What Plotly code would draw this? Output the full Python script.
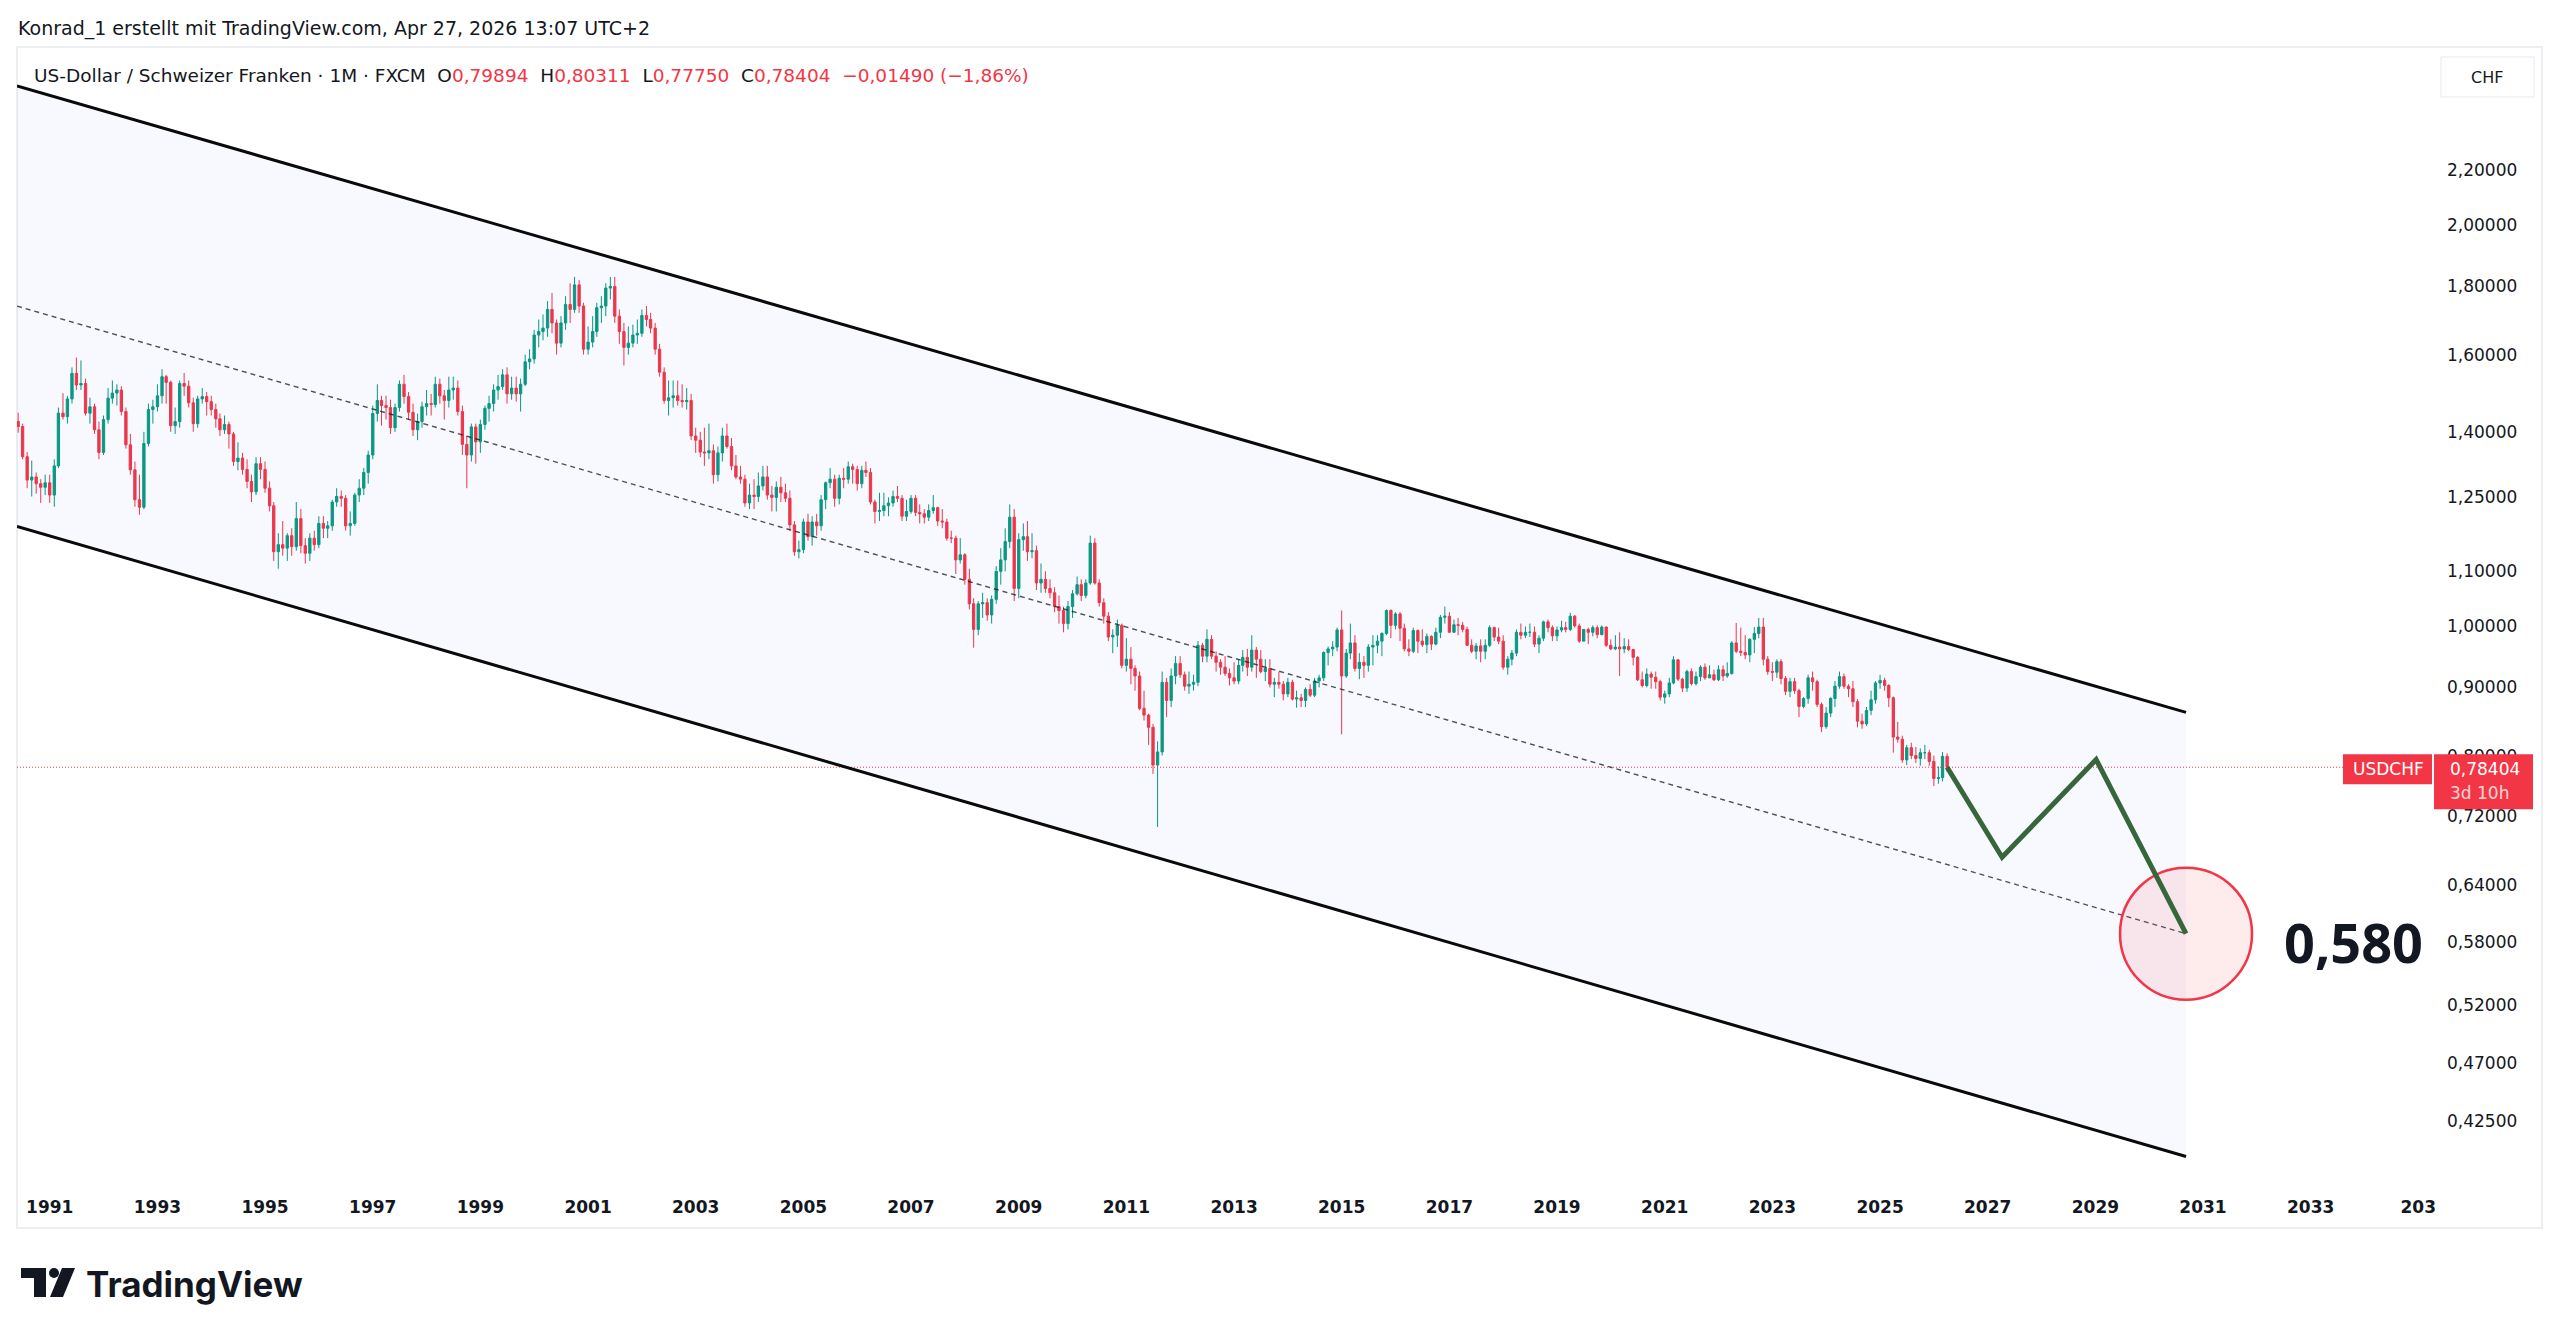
import math
import pandas as pd
import plotly.graph_objects as go

# ---------------- data (monthly USD/CHF candles) ----------------
FIRST_MONTH = "1990-06-01"

OPEN = [
    1.425, 1.413, 1.341, 1.288, 1.295, 1.280, 1.272,
    1.282, 1.255, 1.320, 1.446, 1.437, 1.482, 1.549, 1.518, 1.522, 1.446, 1.462, 1.405,
    1.351, 1.430, 1.484, 1.497, 1.505, 1.450, 1.369, 1.311, 1.245, 1.229, 1.372, 1.455,
    1.462, 1.490, 1.540, 1.525, 1.415, 1.425, 1.522, 1.515, 1.472, 1.420, 1.482, 1.488,
    1.475, 1.455, 1.432, 1.405, 1.418, 1.395, 1.330, 1.338, 1.312, 1.285, 1.262, 1.325,
    1.312, 1.270, 1.232, 1.138, 1.152, 1.145, 1.170, 1.148, 1.205, 1.150, 1.135, 1.165,
    1.152, 1.195, 1.185, 1.190, 1.240, 1.252, 1.248, 1.190, 1.195, 1.255, 1.270, 1.305,
    1.345, 1.445, 1.478, 1.465, 1.460, 1.410, 1.460, 1.520, 1.488, 1.448, 1.405, 1.425,
    1.462, 1.470, 1.468, 1.520, 1.490, 1.478, 1.505, 1.510, 1.450, 1.370, 1.345, 1.412,
    1.376, 1.418, 1.458, 1.470, 1.505, 1.514, 1.545, 1.495, 1.510, 1.495, 1.520, 1.580,
    1.588, 1.655, 1.665, 1.675, 1.730, 1.690, 1.632, 1.690, 1.745, 1.730, 1.805, 1.740,
    1.615, 1.635, 1.665, 1.735, 1.740, 1.795, 1.800, 1.710, 1.665, 1.620, 1.632, 1.655,
    1.660, 1.712, 1.700, 1.675, 1.615, 1.552, 1.478, 1.485, 1.490, 1.478, 1.475, 1.478,
    1.390, 1.380, 1.352, 1.350, 1.355, 1.300, 1.350, 1.390, 1.365, 1.320, 1.295, 1.290,
    1.238, 1.255, 1.252, 1.275, 1.295, 1.255, 1.250, 1.272, 1.260, 1.248, 1.192, 1.138,
    1.142, 1.198, 1.168, 1.198, 1.190, 1.245, 1.282, 1.290, 1.248, 1.292, 1.290, 1.318,
    1.312, 1.280, 1.310, 1.305, 1.240, 1.220, 1.222, 1.232, 1.238, 1.252, 1.248, 1.210,
    1.220, 1.248, 1.218, 1.215, 1.208, 1.222, 1.228, 1.200, 1.198, 1.165, 1.165, 1.122,
    1.132, 1.085, 1.040, 0.995, 1.040, 1.042, 1.020, 1.048, 1.100, 1.122, 1.158, 1.208,
    1.068, 1.162, 1.168, 1.138, 1.140, 1.078, 1.085, 1.068, 1.060, 1.035, 1.028, 1.005,
    1.035, 1.058, 1.075, 1.055, 1.078, 1.155, 1.078, 1.042, 1.018, 0.982, 0.985, 1.002,
    0.935, 0.945, 0.930, 0.918, 0.868, 0.858, 0.840, 0.787, 0.805, 0.908, 0.880, 0.918,
    0.938, 0.920, 0.902, 0.905, 0.908, 0.968, 0.950, 0.978, 0.950, 0.940, 0.932, 0.922,
    0.915, 0.910, 0.935, 0.948, 0.932, 0.960, 0.945, 0.925, 0.930, 0.905, 0.908, 0.905,
    0.890, 0.908, 0.882, 0.884, 0.880, 0.897, 0.888, 0.910, 0.915, 0.956, 0.962, 0.965,
    0.994, 0.918, 0.955, 0.972, 0.930, 0.940, 0.935, 0.965, 0.968, 0.975, 0.988, 1.028,
    1.002, 1.022, 0.997, 0.962, 0.958, 0.993, 0.975, 0.969, 0.983, 0.970, 0.990, 1.016,
    1.018, 0.990, 1.003, 1.002, 0.995, 0.968, 0.958, 0.967, 0.958, 0.968, 0.998, 0.982,
    0.975, 0.932, 0.945, 0.955, 0.990, 0.985, 0.990, 0.990, 0.970, 0.980, 1.008, 0.998,
    0.984, 0.994, 0.998, 0.995, 1.018, 1.001, 0.975, 0.995, 0.990, 0.998, 0.986, 0.999,
    0.968, 0.962, 0.965, 0.962, 0.966, 0.961, 0.948, 0.912, 0.903, 0.921, 0.916, 0.909,
    0.885, 0.890, 0.907, 0.944, 0.913, 0.899, 0.925, 0.906, 0.917, 0.932, 0.915, 0.920,
    0.912, 0.928, 0.918, 0.922, 0.972, 0.958, 0.956, 0.952, 0.978, 0.988, 0.999, 0.945,
    0.925, 0.924, 0.941, 0.914, 0.894, 0.909, 0.895, 0.871, 0.883, 0.915, 0.909, 0.874,
    0.841, 0.861, 0.883, 0.902, 0.917, 0.902, 0.898, 0.878, 0.849, 0.845, 0.865, 0.881,
    0.907, 0.911, 0.903, 0.884, 0.826, 0.823, 0.794, 0.811, 0.800, 0.796, 0.804, 0.804,
    0.792, 0.769, 0.770, 0.79894,
]

HIGH = [
    1.447, 1.420, 1.352, 1.332, 1.305, 1.290, 1.300,
    1.300, 1.335, 1.460, 1.497, 1.490, 1.565, 1.592, 1.584, 1.535, 1.485, 1.470, 1.425,
    1.440, 1.510, 1.530, 1.520, 1.515, 1.460, 1.395, 1.330, 1.300, 1.400, 1.470, 1.480,
    1.520, 1.560, 1.545, 1.530, 1.460, 1.530, 1.550, 1.530, 1.485, 1.490, 1.510, 1.500,
    1.490, 1.470, 1.445, 1.440, 1.425, 1.400, 1.375, 1.350, 1.335, 1.300, 1.340, 1.340,
    1.330, 1.285, 1.240, 1.175, 1.200, 1.175, 1.185, 1.240, 1.225, 1.165, 1.175, 1.180,
    1.210, 1.210, 1.200, 1.245, 1.270, 1.265, 1.255, 1.220, 1.260, 1.290, 1.315, 1.355,
    1.465, 1.520, 1.490, 1.490, 1.480, 1.470, 1.530, 1.545, 1.500, 1.470, 1.445, 1.475,
    1.505, 1.495, 1.540, 1.535, 1.505, 1.540, 1.540, 1.530, 1.465, 1.390, 1.420, 1.420,
    1.430, 1.465, 1.490, 1.520, 1.545, 1.560, 1.565, 1.540, 1.540, 1.535, 1.600, 1.615,
    1.670, 1.700, 1.715, 1.755, 1.780, 1.700, 1.710, 1.770, 1.810, 1.830, 1.820, 1.750,
    1.680, 1.710, 1.750, 1.770, 1.810, 1.830, 1.830, 1.730, 1.690, 1.680, 1.685, 1.700,
    1.730, 1.740, 1.720, 1.690, 1.630, 1.565, 1.530, 1.530, 1.530, 1.520, 1.510, 1.495,
    1.410, 1.400, 1.410, 1.420, 1.370, 1.365, 1.410, 1.420, 1.385, 1.345, 1.320, 1.300,
    1.280, 1.290, 1.305, 1.320, 1.320, 1.275, 1.285, 1.295, 1.280, 1.265, 1.200, 1.160,
    1.205, 1.215, 1.210, 1.215, 1.255, 1.285, 1.315, 1.300, 1.300, 1.315, 1.330, 1.325,
    1.320, 1.320, 1.330, 1.315, 1.245, 1.260, 1.260, 1.250, 1.265, 1.275, 1.255, 1.245,
    1.255, 1.255, 1.235, 1.225, 1.235, 1.255, 1.230, 1.225, 1.205, 1.180, 1.170, 1.165,
    1.135, 1.105, 1.050, 1.045, 1.060, 1.050, 1.055, 1.110, 1.145, 1.185, 1.235, 1.225,
    1.175, 1.195, 1.200, 1.175, 1.150, 1.115, 1.100, 1.085, 1.070, 1.055, 1.035, 1.045,
    1.065, 1.090, 1.085, 1.085, 1.170, 1.165, 1.085, 1.050, 1.025, 0.995, 1.012, 1.005,
    0.980, 0.965, 0.935, 0.925, 0.895, 0.860, 0.845, 0.820, 0.925, 0.915, 0.930, 0.950,
    0.950, 0.925, 0.925, 0.920, 0.975, 0.972, 0.995, 0.985, 0.958, 0.945, 0.950, 0.930,
    0.940, 0.945, 0.960, 0.962, 0.985, 0.965, 0.960, 0.945, 0.945, 0.915, 0.925, 0.910,
    0.915, 0.912, 0.895, 0.890, 0.900, 0.905, 0.915, 0.920, 0.958, 0.966, 0.975, 0.998,
    1.028, 0.962, 1.005, 0.985, 0.955, 0.950, 0.970, 0.985, 0.985, 0.990, 1.030, 1.030,
    1.025, 1.025, 1.005, 0.978, 0.998, 0.995, 0.995, 0.988, 0.985, 0.998, 1.020, 1.035,
    1.025, 1.012, 1.015, 1.008, 1.000, 0.978, 0.972, 0.978, 0.978, 1.002, 1.000, 0.998,
    0.985, 0.950, 0.960, 0.995, 1.005, 1.000, 1.005, 1.000, 0.985, 1.010, 1.012, 1.002,
    1.000, 1.010, 1.008, 1.024, 1.020, 1.005, 0.995, 0.998, 1.002, 1.002, 1.002, 1.000,
    0.978, 0.985, 0.990, 0.980, 0.978, 0.962, 0.950, 0.925, 0.930, 0.925, 0.925, 0.912,
    0.895, 0.915, 0.950, 0.945, 0.915, 0.928, 0.930, 0.925, 0.935, 0.938, 0.935, 0.928,
    0.935, 0.935, 0.940, 0.975, 1.006, 0.998, 0.985, 0.980, 0.999, 1.015, 1.015, 0.950,
    0.940, 0.945, 0.945, 0.918, 0.915, 0.915, 0.898, 0.885, 0.920, 0.925, 0.912, 0.877,
    0.870, 0.885, 0.910, 0.925, 0.922, 0.905, 0.910, 0.882, 0.860, 0.870, 0.895, 0.910,
    0.920, 0.915, 0.905, 0.886, 0.848, 0.828, 0.815, 0.818, 0.812, 0.810, 0.815, 0.808,
    0.800, 0.785, 0.805, 0.80311,
]

LOW = [
    1.398, 1.335, 1.270, 1.252, 1.258, 1.238, 1.255,
    1.238, 1.230, 1.315, 1.430, 1.420, 1.470, 1.505, 1.505, 1.440, 1.420, 1.395, 1.335,
    1.345, 1.420, 1.470, 1.465, 1.440, 1.360, 1.300, 1.230, 1.213, 1.225, 1.365, 1.420,
    1.450, 1.470, 1.470, 1.400, 1.395, 1.410, 1.490, 1.460, 1.400, 1.410, 1.470, 1.440,
    1.440, 1.410, 1.390, 1.395, 1.360, 1.320, 1.310, 1.300, 1.270, 1.240, 1.255, 1.290,
    1.260, 1.220, 1.120, 1.105, 1.130, 1.120, 1.130, 1.140, 1.135, 1.115, 1.120, 1.140,
    1.145, 1.165, 1.165, 1.180, 1.230, 1.230, 1.180, 1.170, 1.190, 1.240, 1.255, 1.280,
    1.335, 1.425, 1.415, 1.430, 1.395, 1.400, 1.450, 1.470, 1.430, 1.390, 1.380, 1.410,
    1.440, 1.440, 1.460, 1.470, 1.430, 1.460, 1.480, 1.440, 1.345, 1.270, 1.330, 1.325,
    1.350, 1.405, 1.425, 1.450, 1.480, 1.505, 1.470, 1.480, 1.475, 1.450, 1.515, 1.560,
    1.575, 1.620, 1.640, 1.650, 1.660, 1.600, 1.620, 1.670, 1.690, 1.720, 1.720, 1.600,
    1.600, 1.620, 1.650, 1.690, 1.710, 1.760, 1.690, 1.630, 1.570, 1.600, 1.620, 1.630,
    1.650, 1.680, 1.660, 1.600, 1.540, 1.470, 1.440, 1.460, 1.465, 1.460, 1.455, 1.380,
    1.350, 1.340, 1.320, 1.335, 1.280, 1.285, 1.330, 1.360, 1.310, 1.290, 1.280, 1.230,
    1.225, 1.225, 1.240, 1.265, 1.245, 1.220, 1.220, 1.240, 1.240, 1.180, 1.130, 1.125,
    1.135, 1.160, 1.150, 1.170, 1.180, 1.225, 1.270, 1.230, 1.235, 1.270, 1.280, 1.280,
    1.265, 1.270, 1.295, 1.235, 1.195, 1.200, 1.210, 1.210, 1.230, 1.240, 1.200, 1.200,
    1.215, 1.210, 1.195, 1.195, 1.200, 1.215, 1.190, 1.185, 1.160, 1.155, 1.095, 1.115,
    1.075, 1.030, 0.964, 0.985, 1.015, 1.010, 1.005, 1.040, 1.075, 1.100, 1.145, 1.045,
    1.050, 1.140, 1.120, 1.125, 1.065, 1.060, 1.060, 1.050, 1.025, 1.005, 0.990, 0.995,
    1.015, 1.055, 1.045, 1.050, 1.075, 1.075, 1.035, 1.005, 0.975, 0.955, 0.965, 0.930,
    0.925, 0.905, 0.895, 0.865, 0.850, 0.815, 0.775, 0.707, 0.800, 0.855, 0.870, 0.905,
    0.915, 0.895, 0.890, 0.895, 0.902, 0.940, 0.940, 0.945, 0.925, 0.920, 0.918, 0.903,
    0.905, 0.905, 0.925, 0.918, 0.925, 0.915, 0.922, 0.910, 0.900, 0.885, 0.898, 0.880,
    0.885, 0.880, 0.869, 0.870, 0.870, 0.885, 0.885, 0.900, 0.910, 0.935, 0.950, 0.958,
    0.830, 0.915, 0.945, 0.925, 0.913, 0.915, 0.925, 0.935, 0.955, 0.950, 0.985, 0.980,
    0.995, 0.975, 0.958, 0.950, 0.955, 0.955, 0.965, 0.955, 0.960, 0.968, 0.980, 1.005,
    0.990, 0.990, 0.985, 0.990, 0.967, 0.955, 0.945, 0.940, 0.945, 0.965, 0.975, 0.970,
    0.928, 0.920, 0.935, 0.950, 0.978, 0.980, 0.982, 0.965, 0.955, 0.975, 0.990, 0.975,
    0.975, 0.990, 0.990, 0.992, 0.998, 0.972, 0.975, 0.970, 0.983, 0.980, 0.985, 0.965,
    0.960, 0.960, 0.918, 0.955, 0.958, 0.935, 0.910, 0.900, 0.900, 0.898, 0.898, 0.880,
    0.875, 0.885, 0.905, 0.910, 0.893, 0.893, 0.903, 0.903, 0.910, 0.912, 0.915, 0.910,
    0.910, 0.910, 0.915, 0.920, 0.955, 0.950, 0.945, 0.940, 0.955, 0.980, 0.935, 0.920,
    0.910, 0.915, 0.905, 0.888, 0.885, 0.890, 0.855, 0.868, 0.875, 0.895, 0.870, 0.833,
    0.838, 0.855, 0.870, 0.898, 0.898, 0.885, 0.870, 0.840, 0.838, 0.842, 0.858, 0.875,
    0.898, 0.895, 0.870, 0.804, 0.818, 0.790, 0.787, 0.795, 0.790, 0.786, 0.795, 0.786,
    0.759, 0.762, 0.765, 0.7775,
]

CLOSE = [
    1.413, 1.341, 1.288, 1.295, 1.280, 1.272, 1.282,
    1.255, 1.320, 1.446, 1.437, 1.482, 1.549, 1.518, 1.522, 1.446, 1.462, 1.405, 1.351,
    1.430, 1.484, 1.497, 1.505, 1.450, 1.369, 1.311, 1.245, 1.229, 1.372, 1.455, 1.462,
    1.490, 1.540, 1.525, 1.415, 1.425, 1.522, 1.515, 1.472, 1.420, 1.482, 1.488, 1.475,
    1.455, 1.432, 1.405, 1.418, 1.395, 1.330, 1.338, 1.312, 1.285, 1.262, 1.325, 1.312,
    1.270, 1.232, 1.138, 1.152, 1.145, 1.170, 1.148, 1.205, 1.150, 1.135, 1.165, 1.152,
    1.195, 1.185, 1.190, 1.240, 1.252, 1.248, 1.190, 1.195, 1.255, 1.270, 1.305, 1.345,
    1.445, 1.478, 1.465, 1.460, 1.410, 1.460, 1.520, 1.488, 1.448, 1.405, 1.425, 1.462,
    1.470, 1.468, 1.520, 1.490, 1.478, 1.505, 1.510, 1.450, 1.370, 1.345, 1.412, 1.376,
    1.418, 1.458, 1.470, 1.505, 1.514, 1.545, 1.495, 1.510, 1.495, 1.520, 1.580, 1.588,
    1.655, 1.665, 1.675, 1.730, 1.690, 1.632, 1.690, 1.745, 1.730, 1.805, 1.740, 1.615,
    1.635, 1.665, 1.735, 1.740, 1.795, 1.800, 1.710, 1.665, 1.620, 1.632, 1.655, 1.660,
    1.712, 1.700, 1.675, 1.615, 1.552, 1.478, 1.485, 1.490, 1.478, 1.475, 1.478, 1.390,
    1.380, 1.352, 1.350, 1.355, 1.300, 1.350, 1.390, 1.365, 1.320, 1.295, 1.290, 1.238,
    1.255, 1.252, 1.275, 1.295, 1.255, 1.250, 1.272, 1.260, 1.248, 1.192, 1.138, 1.142,
    1.198, 1.168, 1.198, 1.190, 1.245, 1.282, 1.290, 1.248, 1.292, 1.290, 1.318, 1.312,
    1.280, 1.310, 1.305, 1.240, 1.220, 1.222, 1.232, 1.238, 1.252, 1.248, 1.210, 1.220,
    1.248, 1.218, 1.215, 1.208, 1.222, 1.228, 1.200, 1.198, 1.165, 1.165, 1.122, 1.132,
    1.085, 1.040, 0.995, 1.040, 1.042, 1.020, 1.048, 1.100, 1.122, 1.158, 1.208, 1.068,
    1.162, 1.168, 1.138, 1.140, 1.078, 1.085, 1.068, 1.060, 1.035, 1.028, 1.005, 1.035,
    1.058, 1.075, 1.055, 1.078, 1.155, 1.078, 1.042, 1.018, 0.982, 0.985, 1.002, 0.935,
    0.945, 0.930, 0.918, 0.868, 0.858, 0.840, 0.787, 0.805, 0.908, 0.880, 0.918, 0.938,
    0.920, 0.902, 0.905, 0.908, 0.968, 0.950, 0.978, 0.950, 0.940, 0.932, 0.922, 0.915,
    0.910, 0.935, 0.948, 0.932, 0.960, 0.945, 0.925, 0.930, 0.905, 0.908, 0.905, 0.890,
    0.908, 0.882, 0.884, 0.880, 0.897, 0.888, 0.910, 0.915, 0.956, 0.962, 0.965, 0.994,
    0.918, 0.955, 0.972, 0.930, 0.940, 0.935, 0.965, 0.968, 0.975, 0.988, 1.028, 1.002,
    1.022, 0.997, 0.962, 0.958, 0.993, 0.975, 0.969, 0.983, 0.970, 0.990, 1.016, 1.018,
    0.990, 1.003, 1.002, 0.995, 0.968, 0.958, 0.967, 0.958, 0.968, 0.998, 0.982, 0.975,
    0.932, 0.945, 0.955, 0.990, 0.985, 0.990, 0.990, 0.970, 0.980, 1.008, 0.998, 0.984,
    0.994, 0.998, 0.995, 1.018, 1.001, 0.975, 0.995, 0.990, 0.998, 0.986, 0.999, 0.968,
    0.962, 0.965, 0.962, 0.966, 0.961, 0.948, 0.912, 0.903, 0.921, 0.916, 0.909, 0.885,
    0.890, 0.907, 0.944, 0.913, 0.899, 0.925, 0.906, 0.917, 0.932, 0.915, 0.920, 0.912,
    0.928, 0.918, 0.922, 0.972, 0.958, 0.956, 0.952, 0.978, 0.988, 0.999, 0.945, 0.925,
    0.924, 0.941, 0.914, 0.894, 0.909, 0.895, 0.871, 0.883, 0.915, 0.909, 0.874, 0.841,
    0.861, 0.883, 0.902, 0.917, 0.902, 0.898, 0.878, 0.849, 0.845, 0.865, 0.881, 0.907,
    0.911, 0.903, 0.884, 0.826, 0.823, 0.794, 0.811, 0.800, 0.796, 0.804, 0.804, 0.792,
    0.769, 0.770, 0.799, 0.78404,
]

LEGEND_OHLC = ["0,79894", "0,80311", "0,77750", "0,78404"]
LEGEND_CHANGE = "\u22120,01490 (\u22121,86%)"
COUNTDOWN = "3d 10h"

YEAR_TICKS = [1991, 1993, 1995, 1997, 1999, 2001, 2003, 2005, 2007, 2009, 2011,
              2013, 2015, 2017, 2019, 2021, 2023, 2025, 2027, 2029, 2031, 2033, 2035]
YEAR_LABELS = ["1991", "1993", "1995", "1997", "1999", "2001", "2003", "2005", "2007",
               "2009", "2011", "2013", "2015", "2017", "2019", "2021", "2023", "2025",
               "2027", "2029", "2031", "2033", "203"]
PRICE_TICKS = [0.425, 0.47, 0.52, 0.58, 0.64, 0.72, 0.80, 0.90, 1.00, 1.10, 1.25,
               1.40, 1.60, 1.80, 2.00, 2.20]

# drawings
CHANNEL_X = ["1990-05-24", "2030-09-08"]
CHANNEL_UPPER = [2.546, 0.862]
CHANNEL_LOWER = [1.189, 0.400]
CHANNEL_MID = [1.740, 0.588]
PROJ_X = ["2026-04-01", "2027-04-09", "2029-01-06", "2030-09-08"]
PROJ_Y = [0.78404, 0.671, 0.7945, 0.588]
TARGET = 0.580
TARGET_TEXT = "0,580"
TARGET_TEXT_X = "2032-06-20"

# ---------------- layout geometry ----------------
W, H = 2560, 1337
ML, MR, MT, MB = 17, 128, 47, 157
PW, PH = W - ML - MR, H - MT - MB
X_RANGE = ["1990-05-24", "2035-04-04"]
Y_RANGE = [math.log10(0.3841), math.log10(2.723)]

UP = "#089981"
DOWN = "#f23645"
TXT = "#131722"


def px(x):
    return (x - ML) / PW


def py(y):
    return (H - MB - y) / PH


def yp(price):
    return (math.log10(price) - Y_RANGE[0]) / (Y_RANGE[1] - Y_RANGE[0])


dates = pd.date_range(FIRST_MONTH, periods=len(CLOSE), freq="MS")

fig = go.Figure()

# channel background (translucent so the candles below it stay visible)
fig.add_trace(go.Scatter(
    x=[CHANNEL_X[0], CHANNEL_X[1], CHANNEL_X[1], CHANNEL_X[0], CHANNEL_X[0]],
    y=[CHANNEL_UPPER[0], CHANNEL_UPPER[1], CHANNEL_LOWER[1], CHANNEL_LOWER[0], CHANNEL_UPPER[0]],
    mode="lines", fill="toself", fillcolor="rgba(80,105,230,0.04)", line=dict(width=0),
    hoverinfo="skip", showlegend=False))

# current price line
fig.add_trace(go.Scatter(
    x=X_RANGE, y=[CLOSE[-1], CLOSE[-1]], mode="lines",
    line=dict(color=DOWN, width=1, dash="1px,2px"), hoverinfo="skip", showlegend=False))

# candles
fig.add_trace(go.Candlestick(
    x=dates, open=OPEN, high=HIGH, low=LOW, close=CLOSE,
    increasing=dict(line=dict(color=UP, width=1), fillcolor=UP),
    decreasing=dict(line=dict(color=DOWN, width=1), fillcolor=DOWN),
    whiskerwidth=0, hoverinfo="skip", showlegend=False))

# channel lines
fig.add_trace(go.Scatter(x=CHANNEL_X, y=CHANNEL_MID, mode="lines",
                         line=dict(color="rgba(19,23,34,0.75)", width=1.4, dash="5px,4px"),
                         hoverinfo="skip", showlegend=False))
fig.add_trace(go.Scatter(x=CHANNEL_X, y=CHANNEL_UPPER, mode="lines",
                         line=dict(color="#0a0a0a", width=3), hoverinfo="skip", showlegend=False))
fig.add_trace(go.Scatter(x=CHANNEL_X, y=CHANNEL_LOWER, mode="lines",
                         line=dict(color="#0a0a0a", width=3), hoverinfo="skip", showlegend=False))

# target circle
fig.add_trace(go.Scatter(x=[PROJ_X[-1]], y=[PROJ_Y[-1]], mode="markers",
                         marker=dict(size=132, color="rgba(242,54,69,0.10)",
                                     line=dict(color=DOWN, width=2.5)),
                         hoverinfo="skip", showlegend=False))

# projection path
fig.add_trace(go.Scatter(x=PROJ_X, y=PROJ_Y, mode="lines",
                         line=dict(color="#36663a", width=5), hoverinfo="skip", showlegend=False))

shapes = []
# panel border
shapes.append(dict(type="rect", xref="paper", yref="paper",
                   x0=px(17), x1=px(2542), y0=py(1228), y1=py(47),
                   line=dict(color="#eceef2", width=2), fillcolor="rgba(0,0,0,0)", layer="below"))
# CHF box
shapes.append(dict(type="rect", xref="paper", yref="paper",
                   x0=px(2441), x1=px(2534), y0=py(97), y1=py(57),
                   line=dict(color="#e6e8ee", width=1), fillcolor="#ffffff"))
# price labels
ypr = yp(CLOSE[-1])
shapes.append(dict(type="rect", xref="paper", yref="paper",
                   x0=px(2343), x1=px(2432), y0=ypr - 17 / PH, y1=ypr + 13 / PH,
                   line=dict(width=0), fillcolor=DOWN))
shapes.append(dict(type="rect", xref="paper", yref="paper",
                   x0=px(2434), x1=px(2533), y0=ypr - 42 / PH, y1=ypr + 13 / PH,
                   line=dict(width=0), fillcolor=DOWN))
# TradingView logo mark
shapes.append(dict(type="rect", xref="paper", yref="paper",
                   x0=px(21), x1=px(46), y0=py(1278), y1=py(1268),
                   line=dict(width=0), fillcolor=TXT))
shapes.append(dict(type="rect", xref="paper", yref="paper",
                   x0=px(34), x1=px(46), y0=py(1297), y1=py(1268),
                   line=dict(width=0), fillcolor=TXT))
shapes.append(dict(type="circle", xref="paper", yref="paper",
                   x0=px(49), x1=px(59), y0=py(1278), y1=py(1268),
                   line=dict(width=0), fillcolor=TXT))
shapes.append(dict(type="path", xref="paper", yref="paper",
                   path=f"M {px(62)},{py(1268)} L {px(75)},{py(1268)} L {px(63)},{py(1297)} L {px(50)},{py(1297)} Z",
                   line=dict(width=0), fillcolor=TXT))

FONT = "DejaVu Sans"
annotations = []
annotations.append(dict(
    xref="paper", yref="paper", x=px(16), y=py(28), xanchor="left", yanchor="middle",
    text="Konrad_1 erstellt mit TradingView.com, Apr 27, 2026 13:07 UTC+2",
    showarrow=False, font=dict(family=FONT, size=19, color=TXT)))
red = lambda s: f"<span style='color:{DOWN}'>{s}</span>"
legend = ("US-Dollar / Schweizer Franken \u00b7 1M \u00b7 FXCM&nbsp;&nbsp;"
          f"O{red(LEGEND_OHLC[0])}&nbsp;&nbsp;H{red(LEGEND_OHLC[1])}&nbsp;&nbsp;"
          f"L{red(LEGEND_OHLC[2])}&nbsp;&nbsp;C{red(LEGEND_OHLC[3])}&nbsp;&nbsp;{red(LEGEND_CHANGE)}")
annotations.append(dict(
    xref="paper", yref="paper", x=px(32), y=py(75), xanchor="left", yanchor="middle",
    text=legend, showarrow=False, font=dict(family=FONT, size=18.5, color=TXT)))
annotations.append(dict(
    xref="paper", yref="paper", x=px(2487), y=py(77), xanchor="center", yanchor="middle",
    text="CHF", showarrow=False, font=dict(family=FONT, size=16, color=TXT)))
annotations.append(dict(
    xref="paper", yref="paper", x=px(2388), y=ypr, yshift=-2, xanchor="center", yanchor="middle",
    text="USDCHF", showarrow=False, font=dict(family=FONT, size=17, color="#ffffff")))
annotations.append(dict(
    xref="paper", yref="paper", x=px(2448), y=ypr, yshift=-2, xanchor="left", yanchor="middle",
    text=f"{CLOSE[-1]:.5f}".replace(".", ","), showarrow=False,
    font=dict(family=FONT, size=17, color="#ffffff")))
annotations.append(dict(
    xref="paper", yref="paper", x=px(2448), y=ypr, yshift=-26, xanchor="left", yanchor="middle",
    text=COUNTDOWN, showarrow=False, font=dict(family=FONT, size=17, color="rgba(255,255,255,0.8)")))
annotations.append(dict(
    xref="x", yref="y", x=TARGET_TEXT_X, y=math.log10(TARGET), xanchor="left", yanchor="middle",
    text=f"<b>{TARGET_TEXT}</b>", showarrow=False,
    font=dict(family="Open Sans", size=54, color=TXT)))
annotations.append(dict(
    xref="paper", yref="paper", x=px(84), y=py(1284), xanchor="left", yanchor="middle",
    text="<b>TradingView</b>", showarrow=False,
    font=dict(family="Inter", size=35, color=TXT)))

fig.update_layout(
    width=W, height=H,
    margin=dict(l=ML, r=MR, t=MT, b=MB, pad=0, autoexpand=False),
    paper_bgcolor="#ffffff", plot_bgcolor="#ffffff",
    showlegend=False, hovermode=False, boxgap=0.2,
    shapes=shapes, annotations=annotations,
    xaxis=dict(type="date", range=X_RANGE, rangeslider=dict(visible=False),
               showgrid=False, zeroline=False, showline=False, ticks="",
               tickvals=[f"{y}-01-01" for y in YEAR_TICKS], ticktext=YEAR_LABELS,
               tickfont=dict(family=FONT, size=17, color=TXT, weight="bold"),
               ticklabelstandoff=15, fixedrange=True),
    yaxis=dict(type="log", range=Y_RANGE, side="right", showgrid=False, zeroline=False,
               showline=False, ticks="",
               tickvals=PRICE_TICKS, ticktext=[f"{v:.5f}".replace(".", ",") for v in PRICE_TICKS],
               tickfont=dict(family=FONT, size=17, color=TXT),
               ticklabelstandoff=14, fixedrange=True),
)

fig.write_html("out.html")
